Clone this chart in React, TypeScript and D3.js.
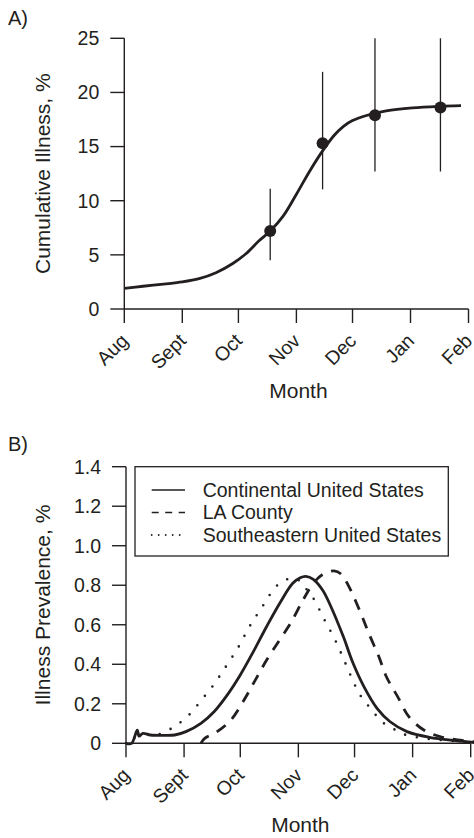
import React from 'react';
import * as d3 from 'd3';

// x values are days since Aug 1, 2009
const monthLabels = ['Aug', 'Sept', 'Oct', 'Nov', 'Dec', 'Jan', 'Feb'];

// panel A - fitted cumulative illness curve and survey estimates
const fitDay = [0, 10, 21, 31, 40, 49, 58, 65, 72, 78, 85, 92, 99, 106, 112, 117, 122, 129, 140, 154, 168, 180];
const fitPct = [1.9, 2.1, 2.3, 2.5, 2.8, 3.35, 4.2, 5.1, 6.3, 7.2, 8.6, 10.6, 12.7, 14.6, 16.0, 16.85, 17.4, 17.85, 18.3, 18.58, 18.72, 18.78];
const obsDay = [78, 106, 134, 169];
const obsPct = [7.2, 15.3, 17.9, 18.6];
const obsLow = [4.5, 11.05, 12.7, 12.7];
const obsHigh = [11.1, 21.9, 25, 25];
const ticksA = [0, 5, 10, 15, 20, 25];

// panel B - illness prevalence
const cusDay = [0, 3, 6, 7, 9, 13, 20, 26, 32, 40, 47, 54, 61, 68, 75, 82, 89, 93, 96, 100, 105, 109, 116, 121, 127, 134, 141, 150, 162, 176, 186];
const cusVal = [0, 0, 0.066, 0.036, 0.05, 0.042, 0.04, 0.042, 0.059, 0.101, 0.16, 0.244, 0.346, 0.464, 0.59, 0.708, 0.81, 0.838, 0.845, 0.83, 0.775, 0.7, 0.54, 0.41, 0.287, 0.177, 0.109, 0.059, 0.03, 0.013, 0.004];
const laDay = [40, 42, 48, 56, 63, 69, 75, 82, 88, 95, 100, 105, 111, 115, 119, 125, 130, 135, 139, 145, 151, 159, 168, 177, 186];
const laVal = [0, 0.025, 0.055, 0.118, 0.219, 0.32, 0.42, 0.523, 0.61, 0.734, 0.81, 0.855, 0.873, 0.855, 0.793, 0.666, 0.548, 0.438, 0.337, 0.236, 0.135, 0.067, 0.033, 0.017, 0.008];
const seDay = [0, 3, 6, 7, 9, 13, 18, 24, 29, 34, 38, 42, 46, 53, 60, 66, 73, 80, 85, 89, 93, 96, 100, 106, 112, 117, 122, 125, 129, 133, 137, 143, 148, 154, 161, 168, 174, 180, 186];
const seVal = [0, 0, 0.066, 0.036, 0.05, 0.045, 0.047, 0.074, 0.106, 0.147, 0.192, 0.239, 0.286, 0.384, 0.487, 0.592, 0.695, 0.793, 0.826, 0.835, 0.82, 0.784, 0.734, 0.624, 0.516, 0.408, 0.298, 0.244, 0.194, 0.147, 0.106, 0.072, 0.047, 0.033, 0.023, 0.017, 0.012, 0.008, 0.005];
const ticksB = [0, 0.2, 0.4, 0.6, 0.8, 1.0, 1.2, 1.4];
const seriesNames = ['Continental United States', 'LA County', 'Southeastern United States'];

const START = new Date(Date.UTC(2009, 7, 1));
const END = new Date(Date.UTC(2010, 1, 1));
const toDate = (d: number) => d3.utcDay.offset(START, d);
const monthTicks = d3.utcMonth.range(START, d3.utcDay.offset(END, 1));

const INK = '#231f20';
const FONT = '"Liberation Sans", Arial, Helvetica, sans-serif';

const zip = (xs: number[], ys: number[]) => xs.map((d, i) => [d, ys[i]] as [number, number]);

function Axes({ x, y, ticks, tickFmt, title, panel, panelY }: any) {
  const [x0, x1] = x.range();
  const [yb, yt] = y.range();
  return (
    <g>
      <text x={8} y={panelY} fontSize={20}>{panel}</text>
      <line x1={x0} x2={x0} y1={yt} y2={yb} stroke={INK} strokeWidth={1.4} />
      <line x1={x0} x2={x1} y1={yb} y2={yb} stroke={INK} strokeWidth={1.4} />
      {ticks.map((t: number) => (
        <g key={t}>
          <line x1={x0 - 14} x2={x0} y1={y(t)} y2={y(t)} stroke={INK} strokeWidth={1.4} />
          <text x={x0 - 25} y={y(t)} dy="0.35em" textAnchor="end" fontSize={19.5}>{tickFmt(t)}</text>
        </g>
      ))}
      {monthTicks.map((m, i) => (
        <g key={i}>
          <line x1={x(m)} x2={x(m)} y1={yb} y2={yb + 14} stroke={INK} strokeWidth={1.4} />
          <text
            transform={`translate(${x(m) + 5},${yb + 33}) rotate(-45)`}
            textAnchor="end"
            fontSize={19.5}
          >
            {monthLabels[i]}
          </text>
        </g>
      ))}
      <text transform={`translate(50,${(yb + yt) / 2}) rotate(-90)`} textAnchor="middle" fontSize={21}>{title}</text>
      <text x={(x0 + x1) / 2 + 2} y={yb + 89} textAnchor="middle" fontSize={21}>Month</text>
    </g>
  );
}

export default function App() {
  const xA = d3.scaleUtc().domain([START, END]).range([124.3, 468.5]);
  const yA = d3.scaleLinear().domain([0, 25]).range([309, 38.3]);
  const xB = d3.scaleUtc().domain([START, END]).range([126, 470.7]);
  const yB = d3.scaleLinear().domain([0, 1.4]).range([743.3, 466.7]);

  const lineA = d3.line<[number, number]>()
    .x(d => xA(toDate(d[0])))
    .y(d => yA(d[1]))
    .curve(d3.curveCatmullRom.alpha(0.5));
  const lineB = d3.line<[number, number]>()
    .x(d => xB(toDate(d[0])))
    .y(d => yB(d[1]))
    .curve(d3.curveCatmullRom.alpha(0.5));

  const legendRows = [
    { name: seriesNames[0], dash: null },
    { name: seriesNames[1], dash: '7 6.5' },
    { name: seriesNames[2], dash: '0 7' },
  ];

  return (
    <svg width={474} height={838} style={{ position: 'absolute', left: 0, top: 0, background: '#fff' }}
      fontFamily={FONT} fill={INK}>
      {/* A) cumulative illness */}
      <Axes x={xA} y={yA} ticks={ticksA} tickFmt={(t: number) => String(t)}
        title="Cumulative Illness, %" panel="A)" panelY={25} />
      <path d={lineA(zip(fitDay, fitPct)) || ''} fill="none" stroke={INK} strokeWidth={2.8} />
      {obsDay.map((d, i) => (
        <g key={d}>
          <line x1={xA(toDate(d))} x2={xA(toDate(d))} y1={yA(obsLow[i])} y2={yA(obsHigh[i])}
            stroke={INK} strokeWidth={1.3} />
          <circle cx={xA(toDate(d))} cy={yA(obsPct[i])} r={6} fill={INK} />
        </g>
      ))}

      {/* B) prevalence */}
      <Axes x={xB} y={yB} ticks={ticksB} tickFmt={(t: number) => (t === 0 ? '0' : t.toFixed(1))}
        title="Illness Prevalence, %" panel="B)" panelY={451} />
      <path d={lineB(zip(seDay, seVal)) || ''} fill="none" stroke={INK} strokeWidth={2.6}
        strokeDasharray="0 12" strokeLinecap="round" />
      <path d={lineB(zip(laDay, laVal)) || ''} fill="none" stroke={INK} strokeWidth={2.8}
        strokeDasharray="11 9" />
      <path d={lineB(zip(cusDay, cusVal)) || ''} fill="none" stroke={INK} strokeWidth={2.8} />

      <rect x={135} y={466.7} width={313.3} height={89.3} fill="#fff" stroke={INK} strokeWidth={1.3} />
      {legendRows.map((r, i) => {
        const ly = 490 + i * 22.5;
        return (
          <g key={r.name}>
            <line x1={151.7} x2={185} y1={ly} y2={ly} stroke={INK}
              strokeWidth={r.dash === '0 7' ? 1.8 : 1.4}
              strokeDasharray={r.dash || undefined}
              strokeLinecap={r.dash === '0 7' ? 'round' : 'butt'} />
            <text x={202.7} y={ly} dy="0.35em" fontSize={19.5}>{r.name}</text>
          </g>
        );
      })}
    </svg>
  );
}
